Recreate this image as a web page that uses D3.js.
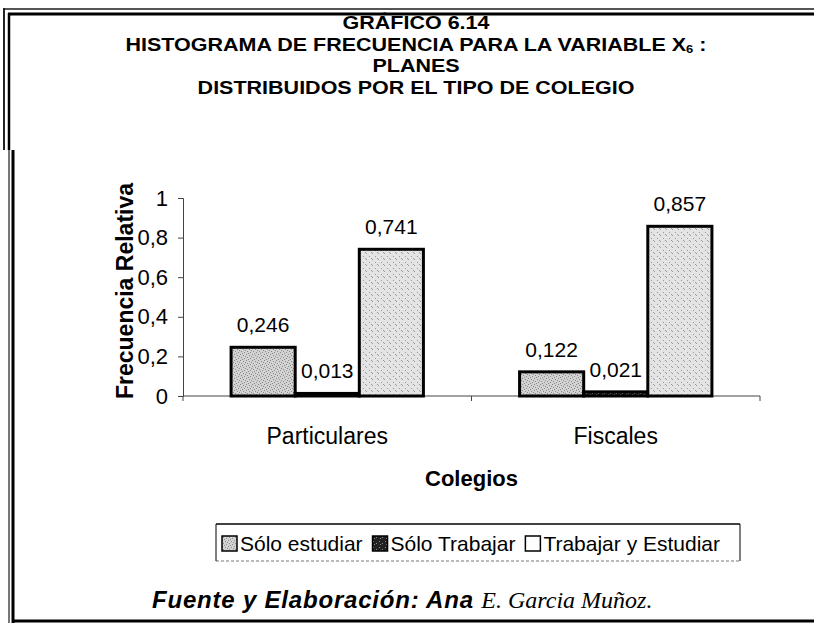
<!DOCTYPE html>
<html><head><meta charset="utf-8">
<script src="https://cdn.jsdelivr.net/npm/d3@7"></script>
<style>
html,body{margin:0;padding:0;background:#fff;}
svg{display:block;font-family:"Liberation Sans",Arial,sans-serif;}
</style></head>
<body>
<svg id="chart" width="814" height="625"></svg>
<script>
const categories = ["Particulares", "Fiscales"];
const seriesNames = ["Sólo estudiar", "Sólo Trabajar", "Trabajar y Estudiar"];
const soloEstudiar = [0.246, 0.122];
const soloTrabajar = [0.013, 0.021];
const trabajarYEstudiar = [0.741, 0.857];
const seriesValues = [soloEstudiar, soloTrabajar, trabajarYEstudiar];
const yTicks = [0, 0.2, 0.4, 0.6, 0.8, 1];
const titleLines = ["GRÁFICO 6.14", "HISTOGRAMA DE FRECUENCIA PARA LA VARIABLE X", "PLANES", "DISTRIBUIDOS POR EL TIPO DE COLEGIO"];

(function () {
const svg = d3.select("#chart");
const fmt = v => String(v).replace(".", ",");

// patterns
const defs = svg.append("defs");
function stipple(id, bg, dots, dotColor) {
  const p = defs.append("pattern").attr("id", id).attr("patternUnits", "userSpaceOnUse")
    .attr("width", 6).attr("height", 6);
  p.append("rect").attr("width", 6).attr("height", 6).attr("fill", bg);
  dots.forEach(d => p.append("rect").attr("x", d[0]).attr("y", d[1]).attr("width", 1).attr("height", 1).attr("fill", dotColor));
}
stipple("pEst", "#d2d2d2", [[0,0],[3,1],[1,3],[4,4],[2,5],[5,2]], "#8a8a8a");
stipple("pTra", "#222", [[1,1],[4,3],[2,4]], "#888");
stipple("pTyE", "#e4e4e4", [[0,1],[3,4],[5,0]], "#9a9a9a");
const fills = ["url(#pEst)", "url(#pTra)", "url(#pTyE)"];
const legendFills = ["url(#pEst)", "url(#pTra)", "#fff"];

// frame
const frame = svg.append("g").attr("fill", "none");
frame.append("line").attr("x1", 3).attr("x2", 814).attr("y1", 9).attr("y2", 9).attr("stroke", "#555").attr("stroke-width", 2);
frame.append("line").attr("x1", 8).attr("x2", 814).attr("y1", 14).attr("y2", 14).attr("stroke", "#000").attr("stroke-width", 3);
frame.append("line").attr("x1", 4).attr("x2", 4).attr("y1", 8).attr("y2", 150).attr("stroke", "#222").attr("stroke-width", 2);
frame.append("line").attr("x1", 9).attr("x2", 9).attr("y1", 13).attr("y2", 150).attr("stroke", "#000").attr("stroke-width", 2.5);
frame.append("line").attr("x1", 9).attr("x2", 9).attr("y1", 150).attr("y2", 623).attr("stroke", "#777").attr("stroke-width", 2);
frame.append("line").attr("x1", 13).attr("x2", 13).attr("y1", 150).attr("y2", 623).attr("stroke", "#000").attr("stroke-width", 3);
frame.append("line").attr("x1", 12).attr("x2", 814).attr("y1", 621).attr("y2", 621).attr("stroke", "#000").attr("stroke-width", 3);

// title (slightly condensed vertically like the scanned original)
const title = svg.append("g").attr("font-weight", "bold").attr("font-size", 21.5)
  .attr("text-anchor", "middle").attr("fill", "#000");
const tY = [29, 50.5, 72, 93.5];
titleLines.forEach((t, i) => {
  const tx = title.append("text").attr("transform", `translate(416,${tY[i]}) scale(1,0.88)`);
  tx.append("tspan").text(t);
  if (i === 1) {
    tx.append("tspan").attr("font-size", 13).attr("dy", 3).text("6");
    tx.append("tspan").attr("dy", -3).text(" :");
  }
});

// scales
const pLeft = 183, pRight = 760, pTop = 198, pBottom = 396;
const x0 = d3.scaleBand().domain(categories).range([pLeft, pRight]).paddingInner(0).paddingOuter(0);
const x1 = d3.scaleBand().domain(seriesNames).range([0, x0.bandwidth()]).paddingInner(0).paddingOuter(0.75);
const y = d3.scaleLinear().domain([0, 1]).range([pBottom, pTop]);

// axes
const yAxis = svg.append("g").attr("transform", `translate(${pLeft},0)`)
  .call(d3.axisLeft(y).tickValues(yTicks).tickFormat(d => fmt(d)).tickSize(5).tickPadding(10));
yAxis.select(".domain").attr("stroke", "#444");
yAxis.selectAll(".tick line").attr("stroke", "#444");
yAxis.selectAll("text").attr("font-size", 22).attr("font-family", "Liberation Sans, Arial").attr("fill", "#000");

const xAxis = svg.append("g").attr("transform", `translate(0,${pBottom})`)
  .call(d3.axisBottom(x0).tickSize(0).tickFormat(""));
xAxis.select(".domain").attr("stroke", "#444").attr("d", `M${pLeft},0H${pRight}`);
const edges = [pLeft, ...categories.map(c => x0(c) + x0.bandwidth())];
svg.append("g").selectAll("line").data(edges).join("line")
  .attr("x1", d => d).attr("x2", d => d).attr("y1", pBottom).attr("y2", pBottom + 5).attr("stroke", "#444");

svg.append("g").selectAll("text").data(categories).join("text")
  .attr("x", d => x0(d) + x0.bandwidth() / 2).attr("y", 444)
  .attr("text-anchor", "middle").attr("font-size", 23).text(d => d);

svg.append("text").attr("x", (pLeft + pRight) / 2).attr("y", 486).attr("text-anchor", "middle")
  .attr("font-size", 22).attr("font-weight", "bold").text("Colegios");

svg.append("text").attr("transform", `translate(133,291) rotate(-90)`)
  .attr("text-anchor", "middle").attr("font-size", 23).attr("font-weight", "bold").text("Frecuencia Relativa");

// data
const cells = [];
categories.forEach((c, ci) => seriesNames.forEach((s, si) => cells.push({ c, s, si, v: seriesValues[si][ci] })));

svg.append("g").selectAll("text").data(cells).join("text")
  .attr("x", d => x0(d.c) + x1(d.s) + x1.bandwidth() / 2)
  .attr("y", d => y(d.v) - 15)
  .attr("text-anchor", "middle").attr("font-size", 21).text(d => fmt(d.v));

svg.append("g").selectAll("rect").data(cells).join("rect")
  .attr("x", d => x0(d.c) + x1(d.s))
  .attr("y", d => y(d.v))
  .attr("width", x1.bandwidth())
  .attr("height", d => pBottom - y(d.v))
  .attr("fill", d => fills[d.si])
  .attr("stroke", "#000").attr("stroke-width", 3);

// legend
const lgLeft = 216, lgRight = 740, lgTop = 524, lgBottom = 561;
const lg = svg.append("g");
lg.append("line").attr("x1", lgLeft).attr("x2", lgRight).attr("y1", lgTop).attr("y2", lgTop).attr("stroke", "#000").attr("stroke-width", 1.5);
lg.append("line").attr("x1", lgLeft).attr("x2", lgRight).attr("y1", lgBottom).attr("y2", lgBottom).attr("stroke", "#777").attr("stroke-width", 1).attr("stroke-dasharray", "3,2");
lg.append("line").attr("x1", lgLeft).attr("x2", lgLeft).attr("y1", lgTop).attr("y2", lgBottom).attr("stroke", "#000");
lg.append("line").attr("x1", lgRight).attr("x2", lgRight).attr("y1", lgTop).attr("y2", lgBottom).attr("stroke", "#000");
const items = seriesNames.map((s, i) => {
  const t = lg.append("text").attr("y", 551).attr("font-size", 21).text(s);
  return { t, w: t.node().getComputedTextLength(), i };
});
const sw = 15, swGap = 3;
const totalText = d3.sum(items, d => d.w + sw + swGap);
const startX = lgLeft + 6, endX = lgRight - 20;
const gap = (endX - startX - totalText) / (items.length - 1);
let lx = startX;
items.forEach(it => {
  lg.append("rect").attr("x", lx).attr("y", 536).attr("width", sw).attr("height", sw)
    .attr("fill", legendFills[it.i]).attr("stroke", "#000").attr("stroke-width", 1.5);
  it.t.attr("x", lx + sw + swGap);
  lx += sw + swGap + it.w + gap;
});

// footer
const ft = svg.append("text").attr("x", 152).attr("y", 608).attr("text-anchor", "start");
ft.append("tspan").attr("font-weight", "bold").attr("font-style", "italic").attr("font-size", 24)
  .attr("letter-spacing", 0.8).text("Fuente y Elaboración: Ana ");
ft.append("tspan").attr("font-style", "italic").attr("font-size", 24)
  .attr("font-family", "Liberation Serif, Times New Roman, serif").text("E. Garcia Muñoz.");
})();
</script>
</body></html>
